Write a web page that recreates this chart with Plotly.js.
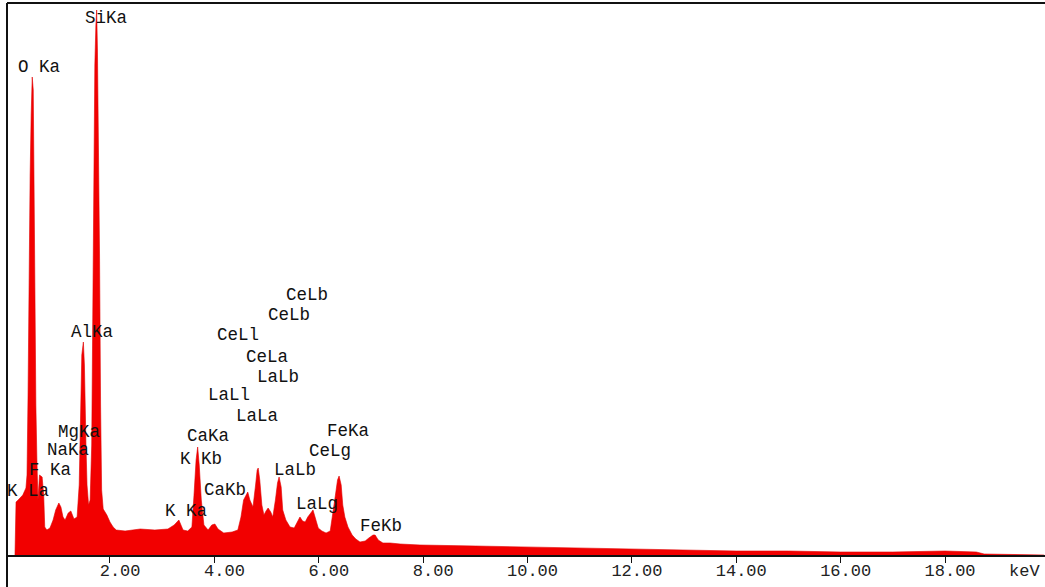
<!DOCTYPE html>
<html>
<head>
<meta charset="utf-8">
<script src="https://cdn.plot.ly/plotly-3.0.1.min.js"></script>
<style>
  html, body { margin: 0; padding: 0; background: #fff; }
  #chart { width: 1045px; height: 587px; }
</style>
</head>
<body>
<div id="chart"></div>
<script>
// ---- Spectrum data (energy in keV, counts in arbitrary units) ----
const energyKeV = [
  0.18, 0.20, 0.24, 0.28, 0.33, 0.39, 0.41, 0.43, 0.45, 0.47, 0.49, 0.51, 0.53, 0.54, 0.56, 0.58, 0.60,
  0.62, 0.65, 0.70, 0.73, 0.75, 0.79, 0.85, 0.91, 0.96, 1.02, 1.06, 1.10, 1.14, 1.20, 1.25, 1.31, 1.37,
  1.41, 1.43, 1.44, 1.46, 1.49, 1.51, 1.54, 1.56, 1.59, 1.62, 1.65, 1.67, 1.69, 1.71, 1.73, 1.745, 1.76,
  1.78, 1.80, 1.82, 1.84, 1.87, 1.94, 2.00, 2.06, 2.12, 2.29, 2.58, 2.86, 3.11, 3.23, 3.32, 3.40, 3.49,
  3.57, 3.61, 3.65, 3.68, 3.71, 3.75, 3.80, 3.88, 3.95, 4.01, 4.07, 4.18, 4.34, 4.45, 4.51, 4.56, 4.61,
  4.64, 4.68, 4.74, 4.79, 4.82, 4.84, 4.87, 4.91, 4.95, 4.99, 5.03, 5.08, 5.12, 5.17, 5.21, 5.24, 5.28,
  5.31, 5.37, 5.45, 5.53, 5.58, 5.64, 5.69, 5.74, 5.79, 5.85, 5.89, 5.94, 5.99, 6.06, 6.14, 6.22, 6.27,
  6.32, 6.36, 6.39, 6.43, 6.46, 6.50, 6.56, 6.64, 6.71, 6.79, 6.89, 6.96, 7.04, 7.08, 7.14, 7.23, 7.37,
  7.56, 7.94, 9.00, 10.00, 11.00, 12.00, 13.00, 14.00, 15.00, 16.00, 17.00, 18.00, 18.60, 18.75, 19.90
];
const counts = [
  0, 53, 55, 57, 60, 67, 80, 160, 300, 380, 440, 478, 465, 380, 250, 150, 95,
  55, 80, 78, 60, 28, 25, 27, 35, 45, 52, 48, 38, 35, 42, 44, 36, 38,
  70, 120, 170, 200, 213, 190, 110, 70, 50, 55, 110, 250, 400, 490, 530, 545, 505,
  420, 300, 150, 65, 46, 40, 33, 28, 25, 24, 26, 25, 26, 30, 35, 25, 24,
  28, 60, 95, 108, 90, 55, 30, 25, 30, 31, 26, 22, 23, 25, 38, 55, 60,
  63, 55, 48, 70, 85, 87, 75, 50, 40, 44, 47, 43, 38, 55, 72, 78, 68,
  45, 35, 28, 27, 32, 38, 34, 33, 38, 43, 45, 36, 27, 24, 22, 24, 40,
  60, 75, 79, 70, 50, 38, 28, 20, 16, 13, 14, 17, 20, 20, 15, 12, 12,
  11, 10, 9, 8, 7, 6, 5, 4, 4, 3, 3, 4, 3, 1, 0
];

// ---- Axis ticks ----
const tickValues = [2, 4, 6, 8, 10, 12, 14, 16, 18];
const tickLabels = ["2.00", "4.00", "6.00", "8.00", "10.00", "12.00", "14.00", "16.00", "18.00"];
const axisUnit = "keV";

// ---- Peak labels ----
const peakLabels = ["SiKa", "O Ka", "AlKa", "MgKa", "NaKa", "F Ka", "K La",
  "CeLb", "CeLb", "CeLl", "CeLa", "LaLb", "LaLl", "LaLa", "CaKa", "FeKa",
  "K Kb", "CeLg", "LaLb", "CaKb", "LaLg", "K Ka", "FeKb"];
// label placement in page pixels (left edge, vertical centre)
const labelLeftPx = [84, 17, 70, 57, 46, 28, 6,
  285, 267, 216, 245, 256, 207, 235, 186, 326,
  179, 308, 273, 203, 295, 164, 359];
const labelMidPx = [18, 67, 332, 432, 450, 470, 491,
  295, 315, 335, 357, 377, 395, 416, 436, 431,
  459, 451, 470, 490, 504, 511, 526];

// ---- layout geometry ----
const W = 1045, H = 587;
const M = { l: 7, r: 0, t: 3, b: 32 };
const plotW = W - M.l - M.r, plotH = H - M.t - M.b;
const pxPerKeV = 52.19;
const x0keV = (M.l - 5.6) / pxPerKeV;
const xRange = [x0keV, x0keV + plotW / pxPerKeV];
const yRange = [0, plotH];
const monoFont = "Liberation Mono, Courier New, monospace";

const px2paperX = px => (px - M.l) / plotW;
const px2paperY = py => (H - M.b - py) / plotH;

const annotations = peakLabels.map((t, i) => ({
  text: t,
  xref: "paper", yref: "paper",
  x: px2paperX(labelLeftPx[i]), y: px2paperY(labelMidPx[i]),
  xanchor: "left", yanchor: "middle",
  showarrow: false,
  borderpad: 0,
  font: { family: monoFont, size: 17.5, color: "#111" }
}));
annotations.push({
  text: axisUnit, xref: "paper", yref: "paper",
  x: px2paperX(1008), y: px2paperY(571),
  xanchor: "left", yanchor: "middle", showarrow: false, borderpad: 0,
  font: { family: monoFont, size: 17, color: "#222" }
});

// pad single-digit labels so the decimal point sits just right of the tick
const paddedLabels = tickLabels.map(s => s.length < 5 ? "\u00a0" + s : s);

const trace = {
  type: "scatter",
  mode: "lines",
  x: energyKeV,
  y: counts,
  fill: "tozeroy",
  fillcolor: "#f20000",
  line: { color: "#e00000", width: 0.6 },
  hoverinfo: "skip"
};

const layout = {
  width: W, height: H,
  margin: M,
  paper_bgcolor: "#ffffff",
  plot_bgcolor: "#ffffff",
  showlegend: false,
  xaxis: {
    range: xRange,
    showgrid: false, zeroline: false,
    showline: true, linecolor: "#111", linewidth: 2,
    ticks: "outside", ticklen: 6, tickwidth: 1, tickcolor: "#111",
    tickmode: "array", tickvals: tickValues, ticktext: paddedLabels,
    ticklabelshift: 5,
    ticklabelstandoff: -7,
    tickfont: { family: monoFont, size: 17, color: "#222" }
  },
  yaxis: {
    range: yRange,
    showgrid: false, zeroline: false, showline: false,
    showticklabels: false, ticks: ""
  },
  shapes: [
    { type: "line", xref: "paper", yref: "paper", x0: 0, x1: 1, y0: 1, y1: 1,
      line: { color: "#111", width: 2 } },
    { type: "line", xref: "paper", yref: "paper", x0: 0, x1: 0, y0: -M.b / plotH, y1: 1,
      line: { color: "#111", width: 2 } }
  ],
  annotations: annotations
};

Plotly.newPlot("chart", [trace], layout, { displayModeBar: false, staticPlot: true });
</script>
</body>
</html>
